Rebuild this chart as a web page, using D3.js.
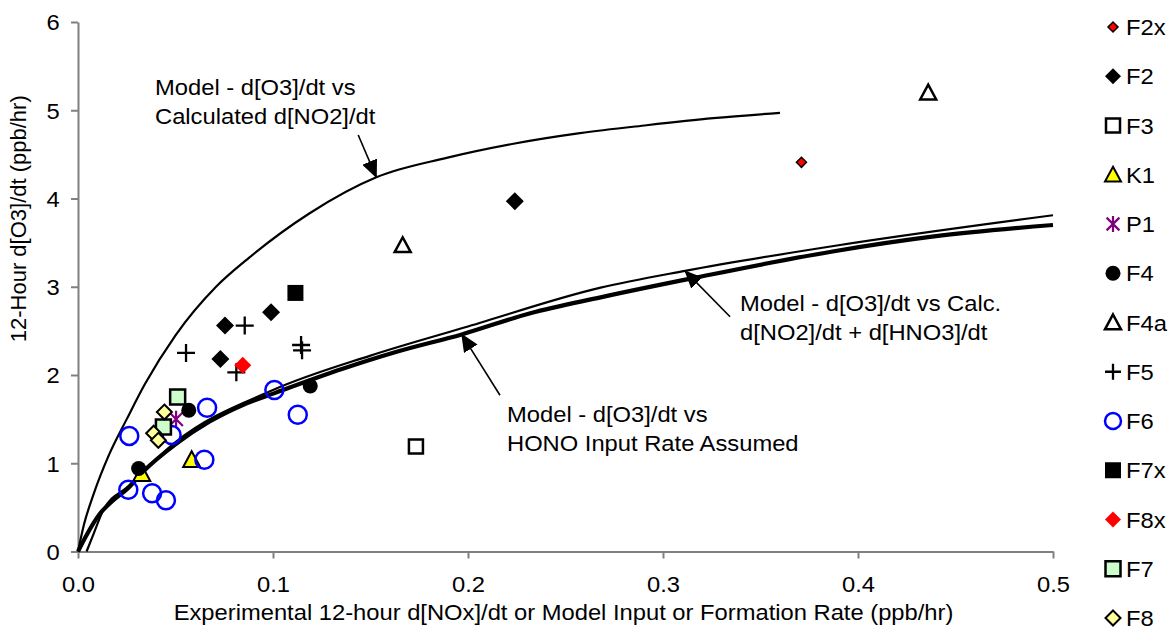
<!DOCTYPE html>
<html>
<head>
<meta charset="utf-8">
<script src="https://cdn.jsdelivr.net/npm/d3@7"></script>
<style>
  html, body { margin: 0; padding: 0; background: #fff; }
  svg text { font-family: "Liberation Sans", Arial, sans-serif; fill: #000; }
</style>
</head>
<body>
<svg id="chart" width="1169" height="634"></svg>
<script>
// ---- Data -------------------------------------------------------------
const xTicks = [0, 0.1, 0.2, 0.3, 0.4, 0.5];
const yTicks = [0, 1, 2, 3, 4, 5, 6];

// Model curves: [rate, d[O3]/dt]
const modelNO2 = [[0,0],[0.003,0.3],[0.008,0.65],[0.016,1.1],[0.025,1.5],[0.0344,1.9],[0.05,2.45],[0.0708,3.0],[0.0878,3.33],[0.1186,3.83],[0.153,4.24],[0.189,4.46],[0.2233,4.62],[0.2574,4.74],[0.2916,4.83],[0.3258,4.91],[0.36,4.97]];
const modelNO2HNO3 = [[0.0044,0],[0.008,0.2],[0.013,0.47],[0.0258,0.74],[0.05,1.24],[0.1,1.83],[0.15,2.22],[0.2,2.55],[0.268,2.99],[0.3113,3.18],[0.39,3.47],[0.5,3.81]];
const modelHONO = [[0,0],[0.004,0.17],[0.0113,0.43],[0.0181,0.58],[0.0258,0.72],[0.0332,0.9],[0.0503,1.22],[0.0673,1.47],[0.0845,1.66],[0.1015,1.8],[0.1357,2.07],[0.163,2.26],[0.1968,2.46],[0.232,2.7],[0.268,2.88],[0.316,3.1],[0.387,3.4],[0.439,3.57],[0.5,3.7]];

// Experimental runs: [d[NOx]/dt, d[O3]/dt]
const F2x = [[0.371,4.41]];
const F2  = [[0.0754,2.56],[0.073,2.18],[0.099,2.71],[0.224,3.97]];
const F3  = [[0.1733,1.19]];
const K1  = [[0.0583,1.04],[0.0327,0.88]];
const P1  = [[0.0503,1.50]];
const F4  = [[0.0568,1.60],[0.0311,0.94],[0.1191,1.875]];
const F4a = [[0.1665,3.47],[0.436,5.2]];
const F5  = [[0.0554,2.25],[0.0855,2.56],[0.0812,2.03],[0.1144,2.34],[0.1149,2.28]];
const F6  = [[0.0263,1.31],[0.048,1.32],[0.0662,1.63],[0.0648,1.04],[0.0258,0.70],[0.038,0.66],[0.0451,0.58],[0.1007,1.83],[0.1127,1.55]];
const F7x = [[0.1115,2.93]];
const F8x = [[0.0845,2.11]];
const F7  = [[0.0511,1.75],[0.0438,1.41]];
const F8  = [[0.0443,1.58],[0.0388,1.34],[0.0412,1.26]];

const seriesNames = ["F2x","F2","F3","K1","P1","F4","F4a","F5","F6","F7x","F8x","F7","F8"];
const seriesData  = [F2x, F2, F3, K1, P1, F4, F4a, F5, F6, F7x, F8x, F7, F8];

// Marker style per series
const markerStyle = {
  F2x: {shape:"diamond", size:10, fill:"#ff0000", stroke:"#000", sw:1.5},
  F2:  {shape:"diamond", size:18, fill:"#000",    stroke:"none", sw:0},
  F3:  {shape:"square",  size:14, fill:"#fff",    stroke:"#000", sw:2.5},
  K1:  {shape:"triangle",size:17, fill:"#ffff00", stroke:"#000", sw:2},
  P1:  {shape:"star",    size:17, fill:"none",    stroke:"#800080", sw:2.2},
  F4:  {shape:"circle",  size:15, fill:"#000",    stroke:"none", sw:0},
  F4a: {shape:"triangle",size:16, fill:"#fff",    stroke:"#000", sw:2.5},
  F5:  {shape:"plus",    size:18, fill:"none",    stroke:"#000", sw:2.3},
  F6:  {shape:"circle",  size:18, fill:"none",    stroke:"#0000ff", sw:2.5},
  F7x: {shape:"square",  size:16, fill:"#000",    stroke:"none", sw:0},
  F8x: {shape:"diamond", size:17, fill:"#ff0000", stroke:"none", sw:0},
  F7:  {shape:"square",  size:15, fill:"#ccffcc", stroke:"#000", sw:2.5},
  F8:  {shape:"diamond", size:15, fill:"#ffff99", stroke:"#000", sw:2}
};

// ---- Layout ----------------------------------------------------------
const svg = d3.select("#chart");
const x = d3.scaleLinear().domain([0, 0.5]).range([78, 1053]);
const y = d3.scaleLinear().domain([0, 6]).range([551.5, 22]);
const FONT = 22;
const STRETCH = 1.08;   // slightly wide lettering

function markerPath(shape, s) {
  const h = s / 2;
  switch (shape) {
    case "diamond":  return `M0,${-h}L${h},0L0,${h}L${-h},0Z`;
    case "square":   return `M${-h},${-h}H${h}V${h}H${-h}Z`;
    case "triangle": return `M0,${-h}L${h},${h*0.85}L${-h},${h*0.85}Z`;
    case "circle":   return `M${h},0A${h},${h} 0 1 1 ${-h},0A${h},${h} 0 1 1 ${h},0Z`;
    case "plus":     return `M${-h},0H${h}M0,${-h}V${h}`;
    case "star":     return `M${-h*0.8},${-h*0.8}L${h*0.8},${h*0.8}M${h*0.8},${-h*0.8}L${-h*0.8},${h*0.8}M0,${-h}V${h}`;
  }
}

// horizontal text placed at (px, py), widened by STRETCH around its anchor
function label(parent, px, py, str, anchor) {
  return parent.append("text")
    .attr("transform", `translate(${px},${py}) scale(${STRETCH},1)`)
    .attr("text-anchor", anchor || "start")
    .attr("font-size", FONT)
    .text(str);
}

// ---- Axes ------------------------------------------------------------
const axisColor = "#808080";
const xAxis = svg.append("g").attr("transform", `translate(0,${y(0)})`)
  .call(d3.axisBottom(x).tickValues(xTicks).tickFormat(d3.format(".1f")).tickSize(7).tickSizeOuter(0));
const yAxis = svg.append("g").attr("transform", `translate(${x(0)},0)`)
  .call(d3.axisLeft(y).tickValues(yTicks).tickFormat(d3.format("d")).tickSize(7).tickSizeOuter(0));
[xAxis, yAxis].forEach(g => {
  g.select(".domain").attr("stroke", axisColor).attr("stroke-width", 2);
  g.selectAll(".tick line").attr("stroke", axisColor).attr("stroke-width", 2);
  g.selectAll(".tick text").attr("font-size", FONT).attr("fill", "#000")
    .attr("font-family", '"Liberation Sans", Arial, sans-serif');
});
xAxis.selectAll(".tick text").attr("dy", "1.4em").attr("transform", `scale(${STRETCH},1)`);
yAxis.selectAll(".tick text").attr("x", -17).attr("dy", "0.36em")
  .attr("transform", `scale(${STRETCH},1)`);

label(svg, (x(0) + x(0.5)) / 2 - 2, 620,
  "Experimental 12-hour d[NOx]/dt or Model Input or Formation Rate (ppb/hr)", "middle");

svg.append("text")
  .attr("transform", `translate(26,${(y(0) + y(6)) / 2 - 68}) rotate(-90)`)
  .attr("text-anchor", "middle").attr("font-size", FONT)
  .text("12-Hour d[O3]/dt (ppb/hr)");

// ---- Model curves ----------------------------------------------------
const line = d3.line().x(d => x(d[0])).y(d => y(d[1])).curve(d3.curveMonotoneX);
svg.append("path").datum(modelNO2).attr("d", line)
  .attr("fill", "none").attr("stroke", "#000").attr("stroke-width", 2.2);
svg.append("path").datum(modelNO2HNO3).attr("d", line)
  .attr("fill", "none").attr("stroke", "#000").attr("stroke-width", 2.2);
svg.append("path").datum(modelHONO).attr("d", line)
  .attr("fill", "none").attr("stroke", "#000").attr("stroke-width", 4.2);

// ---- Experimental points ---------------------------------------------
seriesNames.forEach((name, i) => {
  const st = markerStyle[name];
  svg.append("g").selectAll("path").data(seriesData[i]).join("path")
    .attr("transform", d => `translate(${x(d[0])},${y(d[1])})`)
    .attr("d", markerPath(st.shape, st.size))
    .attr("fill", st.fill).attr("stroke", st.stroke).attr("stroke-width", st.sw)
    .attr("stroke-linejoin", "miter");
});

// ---- Annotations -----------------------------------------------------
svg.append("defs").append("marker")
  .attr("id", "arrowHead").attr("viewBox", "0 0 18 16")
  .attr("refX", 17).attr("refY", 8)
  .attr("markerWidth", 18).attr("markerHeight", 16)
  .attr("markerUnits", "userSpaceOnUse").attr("orient", "auto")
  .append("path").attr("d", "M0,0L18,8L0,16Z").attr("fill", "#000");

const notes = [
  {lines:["Model - d[O3]/dt vs", "Calculated d[NO2]/dt"], tx:155, ty:95, from:[0.1437,4.72], to:[0.153,4.24]},
  {lines:["Model - d[O3]/dt vs Calc.", "d[NO2]/dt + d[HNO3]/dt"], tx:740, ty:311, from:[0.3344,2.66], to:[0.3113,3.18]},
  {lines:["Model - d[O3]/dt vs", "HONO Input Rate Assumed"], tx:507, ty:422, from:[0.2164,1.77], to:[0.1968,2.46]}
];
notes.forEach(n => {
  n.lines.forEach((s, k) => label(svg, n.tx, n.ty + k * 29, s));
  svg.append("line")
    .attr("x1", x(n.from[0])).attr("y1", y(n.from[1]))
    .attr("x2", x(n.to[0])).attr("y2", y(n.to[1]))
    .attr("stroke", "#000").attr("stroke-width", 1.6)
    .attr("marker-end", "url(#arrowHead)");
});

// ---- Legend ----------------------------------------------------------
const legend = svg.append("g");
seriesNames.forEach((name, i) => {
  const st = markerStyle[name];
  const cy = 27 + i * 49.25;
  const sz = name === "F2x" ? 10 : Math.min(st.size, 16);
  legend.append("path")
    .attr("transform", `translate(1113,${cy})`)
    .attr("d", markerPath(st.shape, sz))
    .attr("fill", st.fill).attr("stroke", st.stroke).attr("stroke-width", st.sw);
  label(legend, 1126, cy + 8, name);
});
</script>
</body>
</html>
